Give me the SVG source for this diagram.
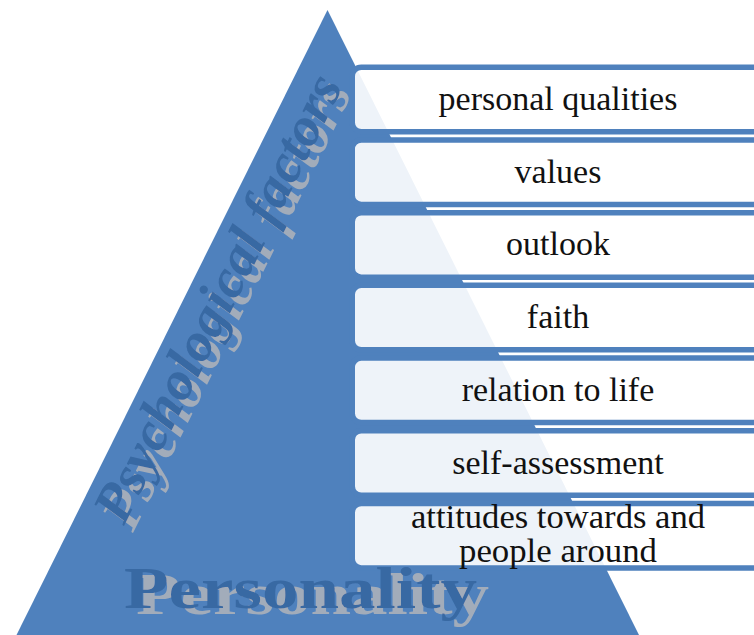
<svg xmlns="http://www.w3.org/2000/svg" width="754" height="635" viewBox="0 0 754 635">
  <style>
    .pyramid { fill: #4f81bd; }
    .box rect { fill: #ffffff; fill-opacity: 0.9; stroke: #4f81bd; stroke-width: 5.5; }
    .box text { font-size: 34px; fill: #111111; text-anchor: middle; }
    .title { font-weight: bold; fill: #3869a3; }
  </style>
  <defs>
    <!-- Grey offset copy behind the caption lettering -->
    <filter id="captionShadow" x="-10%" y="-10%" width="130%" height="130%">
      <feFlood flood-color="#a2acba" result="tint"/>
      <feComposite in="tint" in2="SourceAlpha" operator="in" result="tinted"/>
      <feOffset in="tinted" dx="12" dy="6" result="shifted"/>
      <feMerge>
        <feMergeNode in="shifted"/>
        <feMergeNode in="SourceGraphic"/>
      </feMerge>
    </filter>
    <filter id="sideShadow" x="-10%" y="-10%" width="130%" height="130%">
      <feFlood flood-color="#a2acba" result="tint"/>
      <feComposite in="tint" in2="SourceAlpha" operator="in" result="tinted"/>
      <feOffset in="tinted" dx="9" dy="7" result="shifted"/>
      <feMerge>
        <feMergeNode in="shifted"/>
        <feMergeNode in="SourceGraphic"/>
      </feMerge>
    </filter>
  </defs>

  <rect width="754" height="635" fill="#ffffff"/>

  <!-- Pyramid body -->
  <g id="pyramid">
    <polygon class="pyramid" points="327.5,10 16.5,635 639,635"/>
  </g>

  <!-- Slanted side caption along the left edge -->
  <g id="side-caption" filter="url(#sideShadow)">
    <text class="title" font-family="'Liberation Serif', 'Times New Roman', serif" font-style="italic" font-size="55" transform="translate(124,526) rotate(-63.5)" textLength="492" lengthAdjust="spacingAndGlyphs">Psychological factors</text>
  </g>

  <!-- Factor boxes, top to bottom -->
  <g id="box-personal-qualities" class="box" font-family="'Liberation Serif', 'Times New Roman', serif">
    <rect x="352.25" y="67.25" width="420" height="64.5" rx="9"/>
    <text x="558" y="110">personal qualities</text>
  </g>
  <g id="box-values" class="box" font-family="'Liberation Serif', 'Times New Roman', serif">
    <rect x="352.25" y="139.95" width="420" height="64.5" rx="9"/>
    <text x="558" y="182.7">values</text>
  </g>
  <g id="box-outlook" class="box" font-family="'Liberation Serif', 'Times New Roman', serif">
    <rect x="352.25" y="212.65" width="420" height="64.5" rx="9"/>
    <text x="558" y="255.4">outlook</text>
  </g>
  <g id="box-faith" class="box" font-family="'Liberation Serif', 'Times New Roman', serif">
    <rect x="352.25" y="285.35" width="420" height="64.5" rx="9"/>
    <text x="558" y="328.1">faith</text>
  </g>
  <g id="box-relation-to-life" class="box" font-family="'Liberation Serif', 'Times New Roman', serif">
    <rect x="352.25" y="358.05" width="420" height="64.5" rx="9"/>
    <text x="558" y="400.8">relation to life</text>
  </g>
  <g id="box-self-assessment" class="box" font-family="'Liberation Serif', 'Times New Roman', serif">
    <rect x="352.25" y="430.75" width="420" height="64.5" rx="9"/>
    <text x="558" y="473.5">self-assessment</text>
  </g>
  <g id="box-attitudes" class="box" font-family="'Liberation Serif', 'Times New Roman', serif">
    <rect x="352.25" y="503.45" width="420" height="64.5" rx="9"/>
    <text x="558" y="527.5" font-size="32" textLength="294" lengthAdjust="spacingAndGlyphs">attitudes towards and</text>
    <text x="558" y="561.5" font-size="32" textLength="198" lengthAdjust="spacingAndGlyphs">people around</text>
  </g>

  <!-- Base caption -->
  <g id="base-caption" filter="url(#captionShadow)">
    <text class="title" font-family="'Liberation Serif', 'Times New Roman', serif" font-size="59" x="124" y="608" textLength="353" lengthAdjust="spacingAndGlyphs">Personality</text>
  </g>
</svg>
